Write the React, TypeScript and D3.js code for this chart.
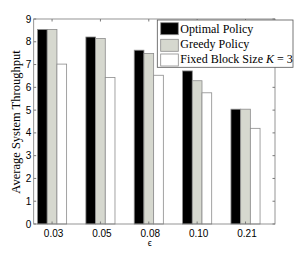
import React, { useEffect, useRef } from 'react';
import * as d3 from 'd3';

const categories = ['0.03', '0.05', '0.08', '0.10', '0.21'];
const optimal = [8.54, 8.21, 7.63, 6.72, 5.04];
const greedy = [8.54, 8.14, 7.49, 6.29, 5.04];
const fixed = [7.02, 6.43, 6.53, 5.76, 4.2];
const yTicks = [0, 1, 2, 3, 4, 5, 6, 7, 8, 9];
const seriesNames = ['Optimal Policy', 'Greedy Policy', 'Fixed Block Size'];
const seriesColors = ['#000000', '#d6d8cf', '#ffffff'];

export default function App() {
  const svgRef = useRef<SVGSVGElement>(null);

  useEffect(() => {
    if (!svgRef.current) return;
    const svg = d3.select(svgRef.current);
    svg.selectAll('*').remove();

    const left = 33.7, right = 275, top = 19, bottom = 224;
    const x = d3.scaleLinear().domain([0.62, 5.61]).range([left, right]);
    const y = d3.scaleLinear().domain([0, 9]).range([bottom, top]);
    const barW = 9.7;
    const series = [optimal, greedy, fixed];
    const edge = '#8c8c8c';

    svg.append('rect').attr('x', left).attr('y', top)
      .attr('width', right - left).attr('height', bottom - top).attr('fill', '#fff');

    series.forEach((vals, s) => {
      svg.append('g').selectAll('rect').data(vals).join('rect')
        .attr('x', (_, i) => x(i + 1) + (s - 1) * barW - barW / 2)
        .attr('y', d => y(d))
        .attr('width', barW)
        .attr('height', d => bottom - y(d))
        .attr('fill', seriesColors[s])
        .attr('stroke', edge)
        .attr('stroke-width', 0.8);
    });

    // axes box and ticks
    const axisColor = '#7a7a7a';
    svg.append('rect').attr('x', left).attr('y', top)
      .attr('width', right - left).attr('height', bottom - top)
      .attr('fill', 'none').attr('stroke', axisColor).attr('stroke-width', 0.8);

    const tl = 2.5;
    yTicks.forEach(t => {
      svg.append('line').attr('x1', left).attr('x2', left + tl).attr('y1', y(t)).attr('y2', y(t)).attr('stroke', axisColor);
      svg.append('line').attr('x1', right).attr('x2', right - tl).attr('y1', y(t)).attr('y2', y(t)).attr('stroke', axisColor);
      svg.append('text').attr('x', left - 2.5).attr('y', y(t) + 3.5)
        .attr('text-anchor', 'end').attr('font-family', 'Liberation Sans, Arial, sans-serif')
        .attr('font-size', 10).attr('fill', '#000').text(t);
    });
    categories.forEach((c, i) => {
      const cx = x(i + 1);
      svg.append('line').attr('x1', cx).attr('x2', cx).attr('y1', bottom).attr('y2', bottom - tl).attr('stroke', axisColor);
      svg.append('line').attr('x1', cx).attr('x2', cx).attr('y1', top).attr('y2', top + tl).attr('stroke', axisColor);
      svg.append('text').attr('x', cx + 1.5).attr('y', 236.5)
        .attr('text-anchor', 'middle').attr('font-family', 'Liberation Sans, Arial, sans-serif')
        .attr('font-size', 10).attr('fill', '#000').text(c);
    });

    svg.append('text').attr('x', x(3) + 1).attr('y', 245.5)
      .attr('text-anchor', 'middle').attr('font-family', 'Liberation Sans, Arial, sans-serif')
      .attr('font-size', 9).attr('fill', '#000').text('ϵ');

    svg.append('text')
      .attr('transform', `translate(19.5,122) rotate(-90)`)
      .attr('text-anchor', 'middle').attr('font-family', 'Liberation Serif, Times New Roman, serif')
      .attr('font-size', 12.5).attr('fill', '#000').text('Average System Throughput');

    // legend
    const lg = svg.append('g');
    lg.append('rect').attr('x', 157.3).attr('y', 20).attr('width', 293 - 157.3).attr('height', 47.3)
      .attr('fill', '#fff').attr('stroke', '#555').attr('stroke-width', 0.8);
    const swY = [22.7, 39.3, 54];
    const txtY = [32.5, 47.5, 63];
    seriesNames.forEach((n, s) => {
      lg.append('rect').attr('x', 160.7).attr('y', swY[s]).attr('width', 17.6).attr('height', 12)
        .attr('fill', seriesColors[s]).attr('stroke', edge).attr('stroke-width', 0.8);
      const t = lg.append('text').attr('x', 180.3).attr('y', txtY[s])
        .attr('font-family', 'Liberation Serif, Times New Roman, serif')
        .attr('font-size', 12).attr('fill', '#000').text(n);
      if (s === 2) {
        t.append('tspan').text(' ');
        t.append('tspan').attr('font-style', 'italic').text('K');
        t.append('tspan').text(' = 3');
      }
    });
  }, []);

  return <svg ref={svgRef} width={296} height={253} style={{ display: 'block', position: 'absolute', left: 0, top: 0 }} />;
}
